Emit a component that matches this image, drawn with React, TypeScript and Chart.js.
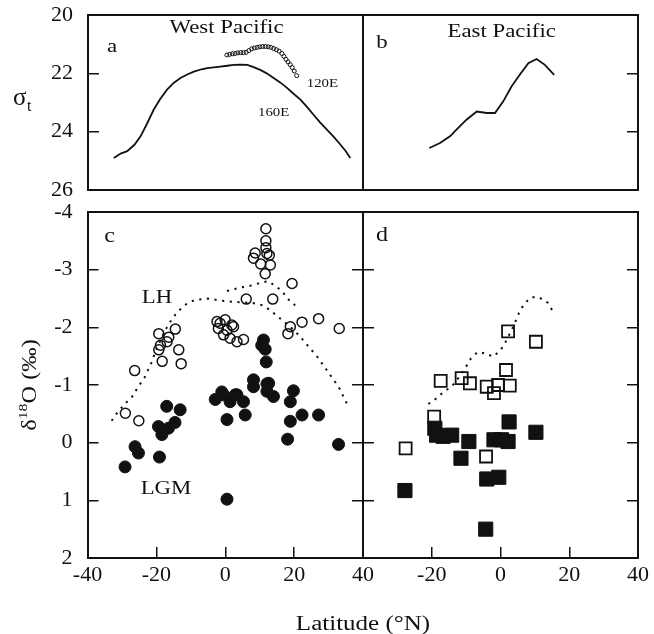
import React, { useEffect, useRef } from 'react';
import { Chart, registerables } from 'chart.js';

Chart.register(...registerables);

const SERIF = "'Liberation Serif', 'Times New Roman', Times, serif";
const INK = '#111';
const W = 654;
const H = 634;

// ---------- Panel a: West Pacific sigma-t ----------
const lat160E = [-32.5, -30.5, -28.6, -26.5, -24.7, -22.8, -20.9, -19, -17, -15, -13.1, -11, -9.2, -7, -5.3, -1.5, 0.5, 2.4, 4.5, 6.3, 8, 10.1, 12, 14, 16, 17.9, 19.8, 21.8, 23.7, 25.6, 27.5, 29.5, 31.5, 33.4, 35, 36.3];
const sigma160E = [24.9, 24.75, 24.67, 24.45, 24.16, 23.72, 23.25, 22.88, 22.56, 22.32, 22.16, 22.03, 21.94, 21.86, 21.82, 21.77, 21.74, 21.71, 21.7, 21.71, 21.78, 21.88, 22.0, 22.16, 22.32, 22.5, 22.7, 22.9, 23.15, 23.42, 23.68, 23.93, 24.18, 24.44, 24.67, 24.9];
const lat120E = [0.4, 1.2, 2.0, 2.8, 3.6, 4.4, 5.2, 6.0, 6.8, 7.6, 8.4, 9.2, 10.0, 10.8, 11.6, 12.4, 13.2, 14.0, 14.8, 15.6, 16.4, 17.0, 17.6, 18.2, 18.8, 19.4, 20.0, 20.7];
const sigma120E = [21.37, 21.35, 21.33, 21.32, 21.3, 21.29, 21.29, 21.28, 21.22, 21.16, 21.13, 21.11, 21.09, 21.08, 21.08, 21.09, 21.11, 21.15, 21.19, 21.24, 21.32, 21.42, 21.52, 21.61, 21.7, 21.8, 21.92, 22.08];

// ---------- Panel b: East Pacific sigma-t ----------
const latEast = [-20.7, -17.6, -14.7, -12.8, -9.9, -6.9, -4.0, -1.6, 0.8, 3.2, 5.6, 8.1, 10.5, 12.9, 15.6];
const sigmaEast = [24.56, 24.39, 24.16, 23.93, 23.59, 23.31, 23.36, 23.36, 22.96, 22.45, 22.05, 21.65, 21.51, 21.71, 22.05];

// ---------- Panel c: West Pacific d18O ----------
const lhWestLat = [11.8, 11.8, 11.8, 8.7, 8.2, 10.3, 12.1, 12.8, 13.1, 11.6, 19.4, 6.1, 13.8, 22.3, 27.1, 33.1, 18.9, 18.2, -2.4, -0.03, 1.9, -2.0, 0.5, -0.5, 1.4, 3.4, 5.3, 2.4, -1.5, -19.3, -16.4, -14.5, -16.9, -18.8, -19.3, -13.5, -18.3, -12.8, -26.3, -29.0, -25.1];
const lhWestD18O = [-3.71, -3.5, -3.38, -3.29, -3.2, -3.1, -3.28, -3.25, -3.08, -2.93, -2.76, -2.49, -2.49, -2.09, -2.15, -1.98, -2.01, -1.89, -2.1, -2.13, -2.04, -1.98, -1.95, -1.87, -1.81, -1.75, -1.79, -2.01, -2.07, -1.89, -1.83, -1.97, -1.75, -1.69, -1.61, -1.61, -1.41, -1.37, -1.25, -0.51, -0.38];
const lgmWestLat = [-29.1, -26.2, -25.2, -19.1, -17.0, -13.1, -19.4, -18.4, -16.5, -14.6, 0.5, 0.5, 5.8, -2.9, -0.5, 1.4, 3.4, 5.3, -1.0, 2.9, 8.2, 8.2, 12.1, 12.1, 14.0, 12.6, 19.8, 18.9, 18.9, 22.3, 27.1, 18.1, 32.9, 11.1, 10.6, 11.6, 11.9];
const lgmWestD18O = [0.42, 0.07, 0.18, 0.25, -0.63, -0.57, -0.28, -0.14, -0.25, -0.35, 0.98, -0.4, -0.48, -0.75, -0.83, -0.71, -0.83, -0.71, -0.88, -0.83, -1.09, -0.97, -1.02, -0.89, -0.8, -1.03, -0.9, -0.71, -0.37, -0.48, -0.48, -0.06, 0.03, -1.78, -1.69, -1.62, -1.4];
const lhCurve160Lat = [-33.0, -31, -29, -27, -25.5, -23.5, -21.5, -19.8, -18, -16.5, -14.5, -12, -9, -5, -1, 3, 8, 11, 13, 15, 17, 20, 22.3, 24.7, 26.6, 28.5, 30.5, 32.9, 35.3];
const lhCurve160D18O = [-0.38, -0.55, -0.68, -0.8, -0.95, -1.12, -1.38, -1.65, -1.88, -2.05, -2.22, -2.38, -2.47, -2.5, -2.46, -2.44, -2.42, -2.38, -2.3, -2.2, -2.1, -1.95, -1.8, -1.63, -1.5, -1.34, -1.17, -0.97, -0.68];
const lhCurve120Lat = [0.5, 3.1, 5.3, 7.2, 9.6, 12.4, 14.3, 16.5, 17.9, 20.3];
const lhCurve120D18O = [-2.63, -2.67, -2.7, -2.72, -2.76, -2.8, -2.73, -2.63, -2.51, -2.38];

// ---------- Panel d: East Pacific d18O ----------
const lhEastLat = [2.2, 10.3, 1.6, -17.4, -11.3, -8.9, -4.0, -0.7, 2.7, -1.9, -19.3, -27.6, -4.2];
const lhEastD18O = [-1.93, -1.75, -1.26, -1.07, -1.12, -1.03, -0.97, -1.0, -0.99, -0.86, -0.45, 0.1, 0.24];
const lgmEastLat = [-19.1, -18.6, -16.7, -14.2, -9.2, 2.5, 10.3, -1.9, 2.2, 0.3, -11.5, -4.0, -0.5, -27.8, -4.3];
const lgmEastD18O = [-0.25, -0.13, -0.11, -0.13, -0.02, -0.36, -0.18, -0.05, -0.02, -0.05, 0.27, 0.63, 0.6, 0.83, 1.5];
const lhCurveEastLat = [-21.0, -18.6, -16.4, -14.2, -12.3, -10.3, -8.6, -6.7, -4.5, -2.1, 0.1, 1.8, 3.7, 5.3, 6.9, 9.0, 11.2, 13.7, 15.3];
const lhCurveEastD18O = [-0.67, -0.77, -0.89, -0.97, -1.12, -1.29, -1.46, -1.57, -1.55, -1.49, -1.61, -1.78, -2.01, -2.24, -2.41, -2.52, -2.52, -2.43, -2.27];

// ---------- axes ----------
const latMin = -40, latMax = 40, latStep = 20;
const sigmaMin = 20, sigmaMax = 26, sigmaStep = 2;
const d18OMin = -4, d18OMax = 2, d18OStep = 1;

type Pt = { x: number; y: number };
const pts = (xs: number[], ys: number[]): Pt[] => xs.map((x, i) => ({ x, y: ys[i] }));

type Box = { left: number; top: number; right: number; bottom: number };
type TextLabel = { text: string; x: number; y: number; size: number; stretch?: number };

const Y_AXIS_W = 60;
const X_AXIS_H = 40;
const TICK_FONT = 22;

function drawText(ctx: CanvasRenderingContext2D, text: string, x: number, y: number, size: number, align: CanvasTextAlign = 'center', stretch = 1.2) {
  ctx.save();
  ctx.font = `${size}px ${SERIF}`;
  ctx.fillStyle = INK;
  ctx.textBaseline = 'middle';
  ctx.textAlign = align;
  ctx.translate(x, y);
  ctx.scale(stretch, 1);
  ctx.fillText(text, 0, 0);
  ctx.restore();
}

function makeLabelPlugin(labels: TextLabel[], extra?: (chart: any) => void) {
  return {
    id: 'panelLabels',
    afterDraw(chart: any) {
      const { ctx, scales } = chart;
      labels.forEach((l) => {
        drawText(ctx, l.text, scales.x.getPixelForValue(l.x), scales.y.getPixelForValue(l.y), l.size, 'center', l.stretch ?? 1.2);
      });
      if (extra) extra(chart);
    },
  };
}

const fixedFit = (size: number) => (scale: any) => {
  if (scale.isHorizontal()) scale.height = size;
  else scale.width = size;
  scale.paddingTop = 0;
  scale.paddingBottom = 0;
  scale.paddingLeft = 0;
  scale.paddingRight = 0;
};

function axis(position: string, min: number, max: number, step: number, reverse: boolean, showLabels: boolean, showTicks: boolean, padding: number, size: number, hide: number[] = []) {
  return {
    type: 'linear',
    position,
    min,
    max,
    reverse,
    afterFit: fixedFit(size),
    ticks: {
      display: showLabels,
      stepSize: step,
      autoSkip: false,
      color: INK,
      padding,
      font: { family: SERIF, size: TICK_FONT },
      callback: (v: number) => (hide.includes(v) ? '' : String(v)),
    },
    grid: { display: showTicks, drawOnChartArea: false, drawTicks: true, tickLength: -11, color: INK, lineWidth: 1.5 },
    border: { display: true, color: INK, width: 2 },
  };
}

type PanelSpec = {
  box: Box;
  yMin: number;
  yMax: number;
  yStep: number;
  xLabels: boolean;
  xHide?: number[];
  yLabels: boolean;
  leftTicks: boolean;
  rightTicks: boolean;
  bottomTicks: boolean;
  datasets: any[];
  labels: TextLabel[];
  extra?: (chart: any) => void;
};

function makeConfig(s: PanelSpec): any {
  const yW = s.yLabels ? Y_AXIS_W : 0;
  const xH = s.xLabels ? X_AXIS_H : 0;
  return {
    type: 'scatter',
    data: { datasets: s.datasets },
    options: {
      responsive: false,
      animation: false,
      events: [],
      layout: { padding: { left: s.box.left - yW, top: s.box.top, right: W - s.box.right, bottom: H - s.box.bottom - xH } },
      plugins: { legend: { display: false }, tooltip: { enabled: false } },
      scales: {
        x: axis('bottom', latMin, latMax, latStep, false, s.xLabels, s.bottomTicks, 15, xH, s.xHide ?? []),
        x2: axis('top', latMin, latMax, latStep, false, false, false, 0, 0),
        y: axis('left', s.yMin, s.yMax, s.yStep, true, s.yLabels, s.leftTicks, 26, yW),
        y2: axis('right', s.yMin, s.yMax, s.yStep, true, false, s.rightTicks, 0, 0),
      },
    },
    plugins: [makeLabelPlugin(s.labels, s.extra)],
  };
}

const lineDs = (data: Pt[], dashed: boolean, width: number) => ({
  data,
  showLine: true,
  pointRadius: 0,
  borderColor: INK,
  borderWidth: width,
  borderDash: dashed ? [2.2, 5.5] : [],
  borderCapStyle: 'butt',
  fill: false,
  tension: 0,
});

const pointDs = (data: Pt[], style: string, radius: number, filled: boolean, bw: number) => ({
  data,
  pointStyle: style,
  pointRadius: radius,
  borderWidth: bw,
  borderColor: INK,
  backgroundColor: filled ? INK : 'rgba(255,255,255,0)',
});

const panelA = (): PanelSpec => ({
  box: { left: 88, top: 15, right: 363, bottom: 190 },
  yMin: sigmaMin, yMax: sigmaMax, yStep: sigmaStep,
  xLabels: false, yLabels: true, leftTicks: true, rightTicks: false, bottomTicks: false,
  datasets: [
    lineDs(pts(lat160E, sigma160E), false, 1.8),
    pointDs(pts(lat120E, sigma120E), 'circle', 2, false, 1),
  ],
  labels: [
    { text: 'a', x: -33.0, y: 21.1, size: 19 },
    { text: 'West Pacific', x: 0.3, y: 20.43, size: 19 },
    { text: '120E', x: 28.2, y: 22.33, size: 13.5, stretch: 1.1 },
    { text: '160E', x: 14.0, y: 23.33, size: 13.5, stretch: 1.1 },
  ],
  extra: (chart) => {
    const { ctx, chartArea } = chart;
    ctx.save();
    ctx.fillStyle = INK;
    ctx.textBaseline = 'middle';
    ctx.textAlign = 'left';
    ctx.font = `25px ${SERIF}`;
    ctx.fillText('σ', chartArea.left - 75, chartArea.top + 83);
    ctx.font = `16px ${SERIF}`;
    ctx.fillText('t', chartArea.left - 61, chartArea.top + 92);
    ctx.restore();
  },
});

const panelB = (): PanelSpec => ({
  box: { left: 363, top: 15, right: 638, bottom: 190 },
  yMin: sigmaMin, yMax: sigmaMax, yStep: sigmaStep,
  xLabels: false, yLabels: false, leftTicks: false, rightTicks: true, bottomTicks: false,
  datasets: [lineDs(pts(latEast, sigmaEast), false, 1.8)],
  labels: [
    { text: 'b', x: -34.5, y: 20.95, size: 19 },
    { text: 'East Pacific', x: 0.35, y: 20.6, size: 19 },
  ],
});

const panelC = (): PanelSpec => ({
  box: { left: 87.5, top: 212, right: 363, bottom: 558 },
  yMin: d18OMin, yMax: d18OMax, yStep: d18OStep,
  xLabels: true, yLabels: true, leftTicks: true, rightTicks: true, bottomTicks: true,
  datasets: [
    lineDs(pts(lhCurve160Lat, lhCurve160D18O), true, 2),
    lineDs(pts(lhCurve120Lat, lhCurve120D18O), true, 2),
    pointDs(pts(lhWestLat, lhWestD18O), 'circle', 5, false, 1.5),
    pointDs(pts(lgmWestLat, lgmWestD18O), 'circle', 6, true, 1),
  ],
  labels: [
    { text: 'c', x: -33.6, y: -3.57, size: 20 },
    { text: 'LH', x: -19.8, y: -2.5, size: 19 },
    { text: 'LGM', x: -17.2, y: 0.81, size: 19 },
  ],
  extra: (chart) => {
    const { ctx, chartArea } = chart;
    drawText(ctx, 'Latitude (°N)', chartArea.right, chartArea.bottom + 67, 20, 'center', 1.25);
    const parts = [
      { t: 'δ', size: 20, dy: 0 },
      { t: '18', size: 13, dy: -7 },
      { t: 'O (‰)', size: 20, dy: 0 },
    ];
    const stretch = 1.22;
    ctx.save();
    ctx.fillStyle = INK;
    ctx.textBaseline = 'middle';
    ctx.textAlign = 'left';
    ctx.translate(chartArea.left - 57, (chartArea.top + chartArea.bottom) / 2);
    ctx.rotate(-Math.PI / 2);
    ctx.scale(stretch, 1);
    let total = 0;
    parts.forEach((p) => {
      ctx.font = `${p.size}px ${SERIF}`;
      total += ctx.measureText(p.t).width;
    });
    let cx = -total / 2;
    parts.forEach((p) => {
      ctx.font = `${p.size}px ${SERIF}`;
      ctx.fillText(p.t, cx, p.dy);
      cx += ctx.measureText(p.t).width;
    });
    ctx.restore();
  },
});

const panelD = (): PanelSpec => ({
  box: { left: 363, top: 212, right: 638, bottom: 558 },
  yMin: d18OMin, yMax: d18OMax, yStep: d18OStep,
  xLabels: true, xHide: [-40], yLabels: false, leftTicks: true, rightTicks: true, bottomTicks: true,
  datasets: [
    lineDs(pts(lhCurveEastLat, lhCurveEastD18O), true, 2),
    pointDs(pts(lhEastLat, lhEastD18O), 'rect', 8.5, false, 1.8),
    pointDs(pts(lgmEastLat, lgmEastD18O), 'rect', 10, true, 1),
  ],
  labels: [{ text: 'd', x: -34.5, y: -3.58, size: 20 }],
});

function ChartCanvas({ make }: { make: () => PanelSpec }) {
  const ref = useRef<HTMLCanvasElement>(null);
  useEffect(() => {
    const chart = new Chart(ref.current as HTMLCanvasElement, makeConfig(make()));
    return () => chart.destroy();
  }, [make]);
  return (
    <canvas
      ref={ref}
      width={W}
      height={H}
      style={{ position: 'absolute', left: 0, top: 0, width: W, height: H }}
    />
  );
}

export default function App() {
  return (
    <div style={{ position: 'absolute', left: 0, top: 0, width: W, height: H, background: '#fff', overflow: 'hidden' }}>
      <ChartCanvas make={panelA} />
      <ChartCanvas make={panelB} />
      <ChartCanvas make={panelC} />
      <ChartCanvas make={panelD} />
    </div>
  );
}
